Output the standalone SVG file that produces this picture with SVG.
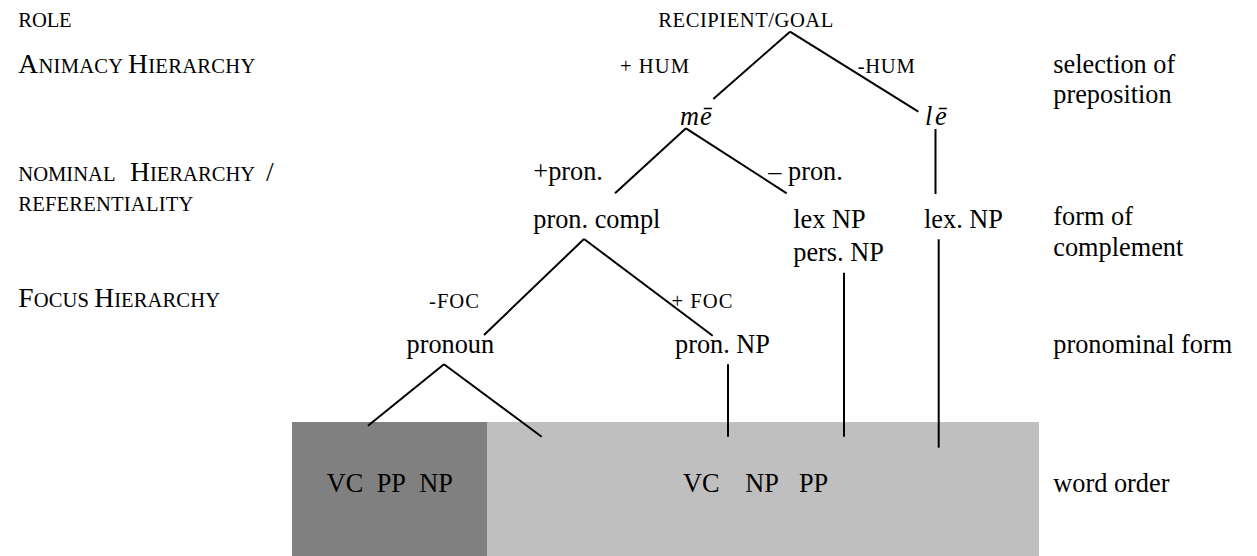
<svg xmlns="http://www.w3.org/2000/svg" width="1257" height="556" viewBox="0 0 1257 556">
<style>
text{font-family:"Liberation Serif",serif;fill:#000;font-size:26.3px}
.sc{font-size:20.6px}
.big{font-size:27.5px}
.it{font-style:italic}
.ln{stroke:#000;stroke-width:2;fill:none}
</style>
<rect x="0" y="0" width="1257" height="556" fill="#fff"/>
<g id="word-order-boxes">
<rect x="292" y="422" width="195" height="134" fill="#808080"/>
<rect x="487" y="422" width="552" height="134" fill="#bfbfbf"/>
</g>
<g id="level-labels">
<text x="18.3" y="26.7" class="sc" textLength="53.4">ROLE</text>
<text x="18.3" y="73.3" textLength="237"><tspan class="big">A</tspan><tspan class="sc">NIMACY </tspan><tspan class="big">H</tspan><tspan class="sc">IERARCHY</tspan></text>
<text x="18.3" y="181"><tspan class="sc">NOMINAL</tspan><tspan x="130" class="big">H</tspan><tspan class="sc">IERARCHY</tspan><tspan x="266" class="big">/</tspan></text>
<text x="18.3" y="211" class="sc" textLength="175">REFERENTIALITY</text>
<text x="18.3" y="306.7" textLength="201.7"><tspan class="big">F</tspan><tspan class="sc">OCUS </tspan><tspan class="big">H</tspan><tspan class="sc">IERARCHY</tspan></text>
</g>
<g id="right-labels">
<text x="1053.3" y="72.7">selection of</text>
<text x="1053.3" y="103.3">preposition</text>
<text x="1053.3" y="225">form of</text>
<text x="1053.3" y="256">complement</text>
<text x="1053.3" y="353.3">pronominal form</text>
<text x="1053.3" y="491.7">word order</text>
</g>
<g id="connectors">
<line class="ln" x1="790" y1="31.7" x2="713.3" y2="99"/>
<line class="ln" x1="790" y1="31.7" x2="918.3" y2="111.7"/>
<line class="ln" x1="686" y1="128.3" x2="615" y2="193.3"/>
<line class="ln" x1="686" y1="128.3" x2="786.7" y2="193.3"/>
<line class="ln" x1="935.5" y1="129" x2="935.5" y2="194"/>
<line class="ln" x1="584" y1="239" x2="484" y2="335"/>
<line class="ln" x1="584" y1="239" x2="712.7" y2="335.7"/>
<line class="ln" x1="844" y1="272.7" x2="844" y2="436.7"/>
<line class="ln" x1="938.7" y1="239.3" x2="938.7" y2="447.7"/>
<line class="ln" x1="444" y1="364.3" x2="368" y2="425.7"/>
<line class="ln" x1="444" y1="364.3" x2="541.7" y2="436.7"/>
<line class="ln" x1="728" y1="364.3" x2="728" y2="436.7"/>
</g>
<g id="node-recipient-goal"><text x="658.3" y="26.7" class="sc" textLength="175">RECIPIENT/GOAL</text></g>
<g id="label-plus-hum"><text x="620" y="72.7" class="sc" textLength="69">+ HUM</text></g>
<g id="label-minus-hum"><text x="857.7" y="72.7" class="sc" textLength="57">-HUM</text></g>
<g id="node-me"><text x="680" y="125" class="it" textLength="31.7">mē</text></g>
<g id="node-le"><text x="925" y="125" class="it" textLength="21.7">lē</text></g>
<g id="label-plus-pron"><text x="533.3" y="180">+pron.</text></g>
<g id="label-minus-pron"><text x="768.3" y="180">– pron.</text></g>
<g id="node-pron-compl"><text x="533.3" y="228.3">pron. compl</text></g>
<g id="node-lex-np"><text x="793.3" y="228.3">lex NP</text><text x="793.3" y="261">pers. NP</text></g>
<g id="node-lex-np2"><text x="924" y="228.3">lex. NP</text></g>
<g id="label-minus-foc"><text x="429" y="308" class="sc" textLength="50">-FOC</text></g>
<g id="label-plus-foc"><text x="671.4" y="308" class="sc" textLength="61">+ FOC</text></g>
<g id="node-pronoun"><text x="406.5" y="353">pronoun</text></g>
<g id="node-pron-np"><text x="675" y="353">pron. NP</text></g>
<g id="node-order-dark"><text x="326.7" y="491.7">VC</text><text x="376.7" y="491.7">PP</text><text x="419.3" y="491.7">NP</text></g>
<g id="node-order-light"><text x="683" y="491.7">VC</text><text x="745.3" y="491.7">NP</text><text x="798.9" y="491.7">PP</text></g>
</svg>
